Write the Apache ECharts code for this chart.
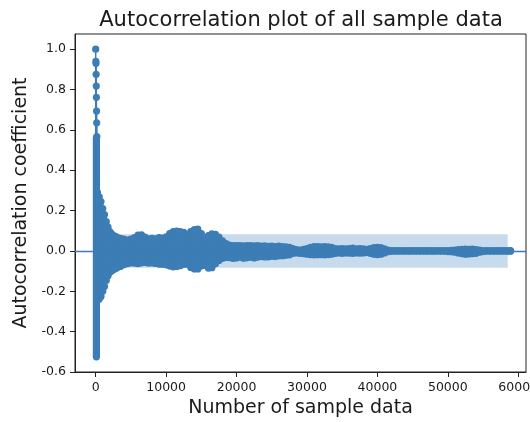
<!DOCTYPE html>
<html>
<head>
<meta charset="utf-8">
<script src="https://cdn.jsdelivr.net/npm/echarts@6/dist/echarts.min.js"></script>
<style>
  html, body { margin: 0; padding: 0; background: #fff; }
  #chart { width: 530px; height: 422px; }
</style>
</head>
<body>
<div id="chart"></div>
<script>
// first lags: single stems that stand out above the dense column
const peakLags = [0, 20, 40, 60, 80, 100, 120, 140, 160];
const peakValues = [1.0, 0.94, 0.93, 0.875, 0.817, 0.761, 0.693, 0.635, 0.566];

// dense part: for each lag bin the highest and lowest coefficient (marker centres)
const binLags = [
  100, 250, 500, 750, 1000, 1250, 1500, 1750, 2000, 2250, 2500, 2750,
  3000, 3500, 4000, 4500, 5000, 5500, 6000, 6500, 7000, 7500,
  8000, 8500, 9000, 9500, 10000, 10500, 11000, 11500, 12000, 12500,
  13000, 13500, 14000, 14500, 15000, 15500, 16000, 16500, 17000, 17500,
  18000, 18500, 19000, 19500, 20000, 20500, 21000, 21500, 22000, 22500,
  23000, 23500, 24000, 24500, 25000, 25500, 26000, 26500, 27000, 27500,
  28000, 28500, 29000, 29500, 30000, 30500, 31000, 31500, 32000, 32500,
  33000, 33500, 34000, 34500, 35000, 35500, 36000, 36500, 37000, 37500,
  38000, 38500, 39000, 39500, 40000, 40500, 41000, 41500, 42000, 42500,
  43000, 43500, 44000, 44500, 45000, 45500, 46000, 46500, 47000, 47500,
  48000, 48500, 49000, 49500, 50000, 50500, 51000, 51500, 52000, 52500,
  53000, 53500, 54000, 54500, 55000, 55500, 56000, 56500, 57000, 57500,
  58000, 58500, 58900
];
const binHigh = [
  0.56, 0.29, 0.268, 0.245, 0.21, 0.18, 0.145, 0.118, 0.096, 0.084, 0.077, 0.072,
  0.068, 0.062, 0.058, 0.054, 0.058, 0.066, 0.078, 0.080, 0.068, 0.060,
  0.062, 0.060, 0.066, 0.063, 0.070, 0.086, 0.096, 0.098, 0.096, 0.092,
  0.078, 0.096, 0.106, 0.108, 0.086, 0.062, 0.076, 0.084, 0.082, 0.068,
  0.050, 0.036, 0.029, 0.027, 0.026, 0.027, 0.025, 0.027, 0.026, 0.025,
  0.026, 0.024, 0.025, 0.023, 0.024, 0.022, 0.024, 0.022, 0.020, 0.018,
  0.012, 0.006, 0.004, 0.008, 0.012, 0.018, 0.022, 0.021, 0.020, 0.022,
  0.020, 0.018, 0.012, 0.010, 0.012, 0.010, 0.012, 0.014, 0.010, 0.012,
  0.010, 0.008, 0.012, 0.016, 0.018, 0.017, 0.010, 0.004, 0.002, 0.001,
  0.002, 0.001, 0.002, 0.001, 0.002, 0.002, 0.001, 0.002, 0.001, 0.002,
  0.001, 0.002, 0.001, 0.002, 0.002, 0.003, 0.004, 0.006, 0.008, 0.009,
  0.008, 0.009, 0.007, 0.004, 0.002, 0.002, 0.001, 0.002, 0.001, 0.002,
  0.002, 0.001, 0.001
];
const binLow = [
  -0.525, -0.245, -0.238, -0.226, -0.2, -0.176, -0.146, -0.123, -0.106, -0.099, -0.093, -0.088,
  -0.084, -0.077, -0.069, -0.063, -0.059, -0.061, -0.063, -0.059, -0.057, -0.061,
  -0.059, -0.062, -0.065, -0.067, -0.069, -0.075, -0.079, -0.077, -0.073, -0.067,
  -0.065, -0.082, -0.090, -0.089, -0.075, -0.072, -0.085, -0.083, -0.064, -0.047,
  -0.037, -0.032, -0.033, -0.037, -0.035, -0.031, -0.036, -0.034, -0.031, -0.035,
  -0.031, -0.028, -0.030, -0.029, -0.027, -0.028, -0.025, -0.024, -0.022, -0.020,
  -0.012, -0.010, -0.012, -0.014, -0.016, -0.018, -0.020, -0.019, -0.018, -0.020,
  -0.018, -0.016, -0.012, -0.010, -0.012, -0.010, -0.011, -0.012, -0.010, -0.011,
  -0.010, -0.008, -0.012, -0.016, -0.018, -0.016, -0.010, -0.004, -0.002, -0.001,
  -0.002, -0.001, -0.002, -0.002, -0.001, -0.002, -0.002, -0.001, -0.002, -0.001,
  -0.002, -0.001, -0.002, -0.002, -0.003, -0.004, -0.006, -0.010, -0.014, -0.016,
  -0.015, -0.014, -0.012, -0.006, -0.003, -0.002, -0.002, -0.002, -0.001, -0.002,
  -0.001, -0.002, -0.001
];

// confidence band
const confLags = [0.5, 58500];
const confLimit = 0.083;

const xTicks = [0, 10000, 20000, 30000, 40000, 50000, 60000];
const yTicks = [-0.6, -0.4, -0.2, 0.0, 0.2, 0.4, 0.6, 0.8, 1.0];

const BLUE = '#3d7db6';
const BAND = '#c8dbec';
const INK = '#1a1a1a';
const FONT = 'DejaVu Sans';
const R = 3.6;

const chart = echarts.init(document.getElementById('chart'), null, { renderer: 'canvas' });

function renderBin(params, api) {
  const lag = api.value(0);
  const top = api.coord([lag, api.value(1)]);
  const bot = api.coord([lag, api.value(2)]);
  // the first bin is the solid column of markers at lag ~0
  const w = lag < 200 ? 2 * R : api.size([500, 0])[0] + 1.6;
  const style = { fill: BLUE };
  return {
    type: 'group',
    children: [
      { type: 'rect', shape: { x: top[0] - w / 2, y: top[1], width: w, height: bot[1] - top[1] }, style },
      { type: 'circle', shape: { cx: top[0], cy: top[1], r: R }, style },
      { type: 'circle', shape: { cx: bot[0], cy: bot[1], r: R }, style }
    ]
  };
}

function renderStem(params, api) {
  const lag = api.value(0);
  const base = api.coord([lag, 0]);
  const tip = api.coord([lag, api.value(1)]);
  return {
    type: 'group',
    children: [
      { type: 'line', shape: { x1: base[0], y1: base[1], x2: tip[0], y2: tip[1] }, style: { stroke: BLUE, lineWidth: 1.5 } },
      { type: 'circle', shape: { cx: tip[0], cy: tip[1], r: R }, style: { fill: BLUE } }
    ]
  };
}

const option = {
  animation: false,
  title: {
    text: 'Autocorrelation plot of all sample data',
    left: 296,
    top: 5,
    textAlign: 'center',
    textStyle: { fontFamily: FONT, fontSize: 21, fontWeight: 'normal', color: INK }
  },
  grid: {
    left: 75, right: 4, top: 34, bottom: 50,
    outerBoundsMode: 'none',
    containLabel: false,
    show: true, borderColor: '#222', borderWidth: 1
  },
  xAxis: {
    type: 'value',
    min: -2940,
    max: 61100,
    name: 'Number of sample data',
    nameLocation: 'middle',
    nameGap: 27,
    nameTextStyle: { fontFamily: FONT, fontSize: 19, color: INK },
    splitLine: { show: false },
    axisLine: { onZero: false, lineStyle: { color: '#222', width: 1 } },
    axisTick: { customValues: xTicks, length: 5, lineStyle: { color: '#222' } },
    axisLabel: {
      customValues: xTicks,
      margin: 9,
      fontFamily: FONT, fontSize: 12.5, color: INK,
      formatter: v => String(v)
    }
  },
  yAxis: {
    type: 'value',
    min: -0.6,
    max: 1.075,
    name: 'Autocorrelation coefficient',
    nameLocation: 'middle',
    nameGap: 38,
    nameTextStyle: { fontFamily: FONT, fontSize: 19, color: INK },
    splitLine: { show: false },
    axisLine: { show: true, onZero: false, lineStyle: { color: '#222', width: 1 } },
    axisTick: { show: true, customValues: yTicks, length: 5, lineStyle: { color: '#222' } },
    axisLabel: {
      customValues: yTicks,
      margin: 9,
      fontFamily: FONT, fontSize: 12.5, color: INK,
      formatter: v => v.toFixed(1)
    }
  },
  series: [
    {
      name: 'band',
      type: 'line',
      data: [],
      z: 1,
      markArea: {
        silent: true,
        itemStyle: { color: BAND },
        data: [[
          { xAxis: confLags[0], yAxis: -confLimit },
          { xAxis: confLags[1], yAxis: confLimit }
        ]]
      },
      markLine: {
        silent: true,
        symbol: 'none',
        label: { show: false },
        lineStyle: { color: BLUE, width: 1.3, type: 'solid' },
        data: [{ yAxis: 0 }]
      }
    },
    {
      name: 'dense',
      type: 'custom',
      z: 3,
      renderItem: renderBin,
      encode: { x: 0, y: [1, 2] },
      data: binLags.map((lag, i) => [lag, binHigh[i], binLow[i]])
    },
    {
      name: 'peaks',
      type: 'custom',
      z: 4,
      renderItem: renderStem,
      encode: { x: 0, y: 1 },
      data: peakLags.map((lag, i) => [lag, peakValues[i]])
    }
  ]
};

chart.setOption(option);
</script>
</body>
</html>
